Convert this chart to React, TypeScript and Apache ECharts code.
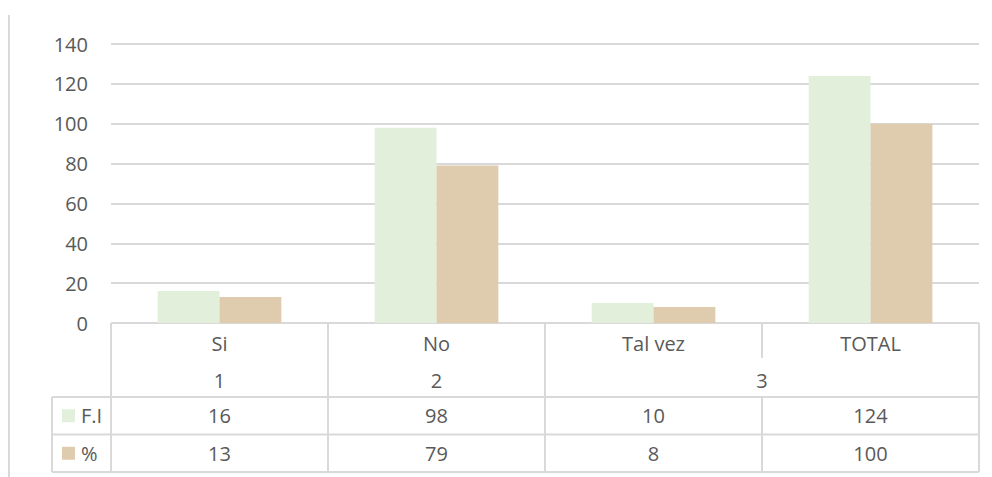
import React, { useEffect, useRef } from "react";
import * as echarts from "echarts";

const categories = ["Si", "No", "Tal vez", "TOTAL"];
const groupLabels = ["1", "2", "3"];
const groupSpans = [1, 1, 2];
const seriesNames = ["F.I", "%"];
const fiValues = [16, 98, 10, 124];
const pctValues = [13, 79, 8, 100];
const yTicks = { min: 0, max: 140, interval: 20 };

const COLORS = ["#e2efda", "#dfccae"];
const LINE = "#d9d9d9";
const TEXT = "#595959";
const FONT = "'Open Sans', 'Noto Sans', sans-serif";
const FS = 20;

export default function App() {
  const ref = useRef<HTMLDivElement>(null);
  useEffect(() => {
    document.body.style.margin = "0";
    const chart = echarts.init(ref.current!, null, { renderer: "svg" });
    const seriesData = [fiValues, pctValues];
    chart.setOption({
      animation: false,
      backgroundColor: "#ffffff",
      grid: { left: 111, right: 13, top: 44, bottom: 154, containLabel: false },
      xAxis: {
        type: "category",
        data: categories,
        axisLine: { show: false },
        axisTick: { show: false },
        axisLabel: { show: false },
        splitLine: { show: false },
      },
      yAxis: {
        type: "value",
        min: yTicks.min,
        max: yTicks.max,
        interval: yTicks.interval,
        axisLine: { show: false },
        axisTick: { show: false },
        axisLabel: { color: TEXT, fontFamily: FONT, fontSize: FS, margin: 23 },
        splitLine: { lineStyle: { color: LINE, width: 2 } },
      },
      series: seriesNames.map((name, i) => ({
        name,
        type: "bar",
        data: seriesData[i],
        barGap: "0%",
        barCategoryGap: "43%",
        itemStyle: { color: COLORS[i] },
      })),
    });

    const n = categories.length;
    const x0 = chart.convertToPixel({ xAxisIndex: 0 }, 0) as number;
    const x1 = chart.convertToPixel({ xAxisIndex: 0 }, 1) as number;
    const cw = x1 - x0;
    const left = x0 - cw / 2;
    const right = left + cw * n;
    const yTop = chart.convertToPixel({ yAxisIndex: 0 }, 0) as number;
    const yRow1 = yTop + 74;
    const yRow2 = yRow1 + 37.5;
    const yBottom = yRow2 + 37.5;
    const legLeft = 52;
    const lineStyle = { stroke: LINE, lineWidth: 2 };
    const els: any[] = [];
    const hline = (xa: number, xb: number, y: number) =>
      els.push({ type: "line", shape: { x1: xa, y1: y, x2: xb, y2: y }, style: lineStyle, silent: true });
    const vline = (x: number, ya: number, yb: number) =>
      els.push({ type: "line", shape: { x1: x, y1: ya, x2: x, y2: yb }, style: lineStyle, silent: true });
    const text = (t: string, x: number, y: number, align = "center") =>
      els.push({
        type: "text",
        x,
        y,
        style: { text: t, fill: TEXT, font: `${FS}px ${FONT}`, align, verticalAlign: "middle" },
        silent: true,
      });

    // outer frame line on the left
    vline(9, 15, 477);
    // table horizontals
    hline(left, right, yTop);
    hline(legLeft, right, yRow1);
    hline(legLeft, right, yRow2);
    hline(legLeft, right, yBottom);
    // verticals
    vline(left, yTop, yBottom);
    vline(legLeft, yRow1, yBottom);
    vline(right, yTop, yBottom);
    // group boundaries
    let acc = 0;
    const groupStart: number[] = [];
    groupSpans.forEach((s) => {
      groupStart.push(acc);
      acc += s;
    });
    for (let i = 1; i < n; i++) {
      const bx = left + cw * i;
      const isGroupBoundary = groupStart.includes(i);
      if (isGroupBoundary) vline(bx, yTop, yBottom);
      else {
        vline(bx, yTop, yTop + 35);
        vline(bx, yRow1, yBottom);
      }
    }
    // category labels
    categories.forEach((c, i) => text(c, left + cw * (i + 0.5), yTop + 20));
    // group labels
    groupLabels.forEach((g, gi) => {
      const cx = left + cw * (groupStart[gi] + groupSpans[gi] / 2);
      text(g, cx, yTop + 57);
    });
    // data rows
    const rowsY = [(yRow1 + yRow2) / 2, (yRow2 + yBottom) / 2];
    seriesNames.forEach((name, si) => {
      const ry = rowsY[si];
      els.push({
        type: "rect",
        shape: { x: 62, y: ry - 6.5, width: 13, height: 13 },
        style: { fill: COLORS[si] },
        silent: true,
      });
      text(name, 81, ry, "left");
      seriesData[si].forEach((v, i) => text(String(v), left + cw * (i + 0.5), ry));
    });
    chart.setOption({ graphic: { elements: els } });
    return () => chart.dispose();
  }, []);
  return (
    <div
      ref={ref}
      style={{ position: "absolute", left: 0, top: 0, width: 992, height: 477 }}
    />
  );
}
